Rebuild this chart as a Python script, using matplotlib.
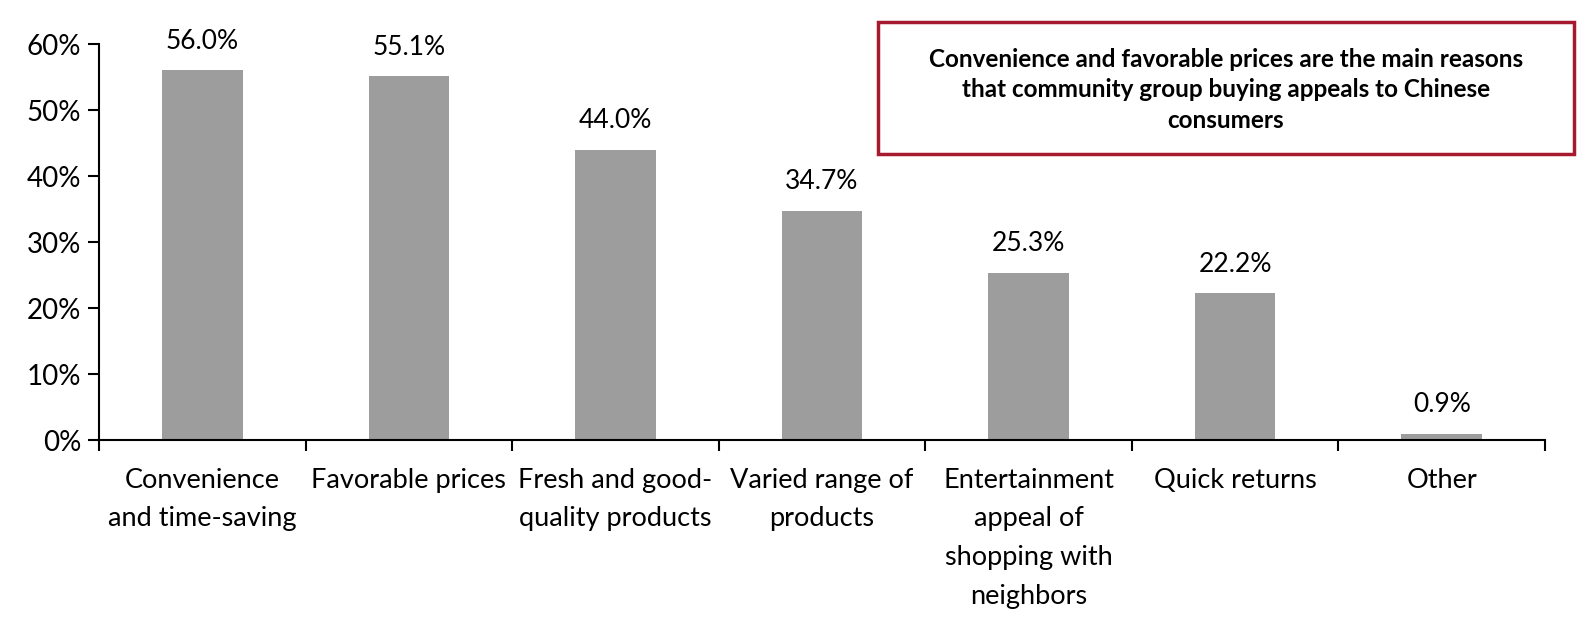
import matplotlib.pyplot as plt
import matplotlib.patches as patches
import numpy as np
from matplotlib.ticker import PercentFormatter

categories = [
    "Convenience\nand time-saving",
    "Favorable prices",
    "Fresh and good-\nquality products",
    "Varied range of\nproducts",
    "Entertainment\nappeal of\nshopping with\nneighbors",
    "Quick returns",
    "Other",
]
values = [56.0, 55.1, 44.0, 34.7, 25.3, 22.2, 0.9]
note = ("Convenience and favorable prices are the main reasons\n"
        "that community group buying appeals to Chinese\nconsumers")

plt.rcParams['font.family'] = ['Lato', 'DejaVu Sans']

fig = plt.figure(figsize=(15.9, 6.18), dpi=100)
ax = fig.add_axes([0.0623, 0.288, 0.9094, 0.6408])

x = np.arange(len(categories))
ax.bar(x, values, width=0.39, color='#9D9D9D')

# etiquetas de valor encima de cada barra
for xi, v in zip(x, values):
    ax.annotate(f"{v:.1f}%", (xi, v), xytext=(0, 12), textcoords='offset points',
                ha='center', va='bottom', fontsize=19)

ax.set_xlim(-0.5, len(categories) - 0.5)
ax.set_ylim(0, 60)
ax.set_yticks(np.arange(0, 61, 10))
ax.yaxis.set_major_formatter(PercentFormatter(decimals=0))

ax.set_xticks(x)
ax.set_xticklabels(categories, fontsize=19.5, linespacing=1.68, va='top')
ax.set_xticks(np.arange(-0.5, len(categories), 1), minor=True)
ax.tick_params(axis='x', which='major', length=0, pad=20)
ax.tick_params(axis='x', which='minor', length=8, width=1.5, direction='out')
ax.tick_params(axis='y', length=8, width=1.5, labelsize=20, pad=5)

for s in ['top', 'right']:
    ax.spines[s].set_visible(False)
for s in ['left', 'bottom']:
    ax.spines[s].set_linewidth(1.5)

box = patches.Rectangle((0.552, 0.751), 0.4377, 0.2136, transform=fig.transFigure,
                        fill=False, edgecolor='#A6192E', linewidth=2.5)
fig.patches.append(box)
fig.text(0.771, 0.855, note, ha='center', va='center', fontsize=17.5,
         fontweight='bold', linespacing=1.4)

fig.savefig('out.png', dpi=100)
plt.close(fig)
